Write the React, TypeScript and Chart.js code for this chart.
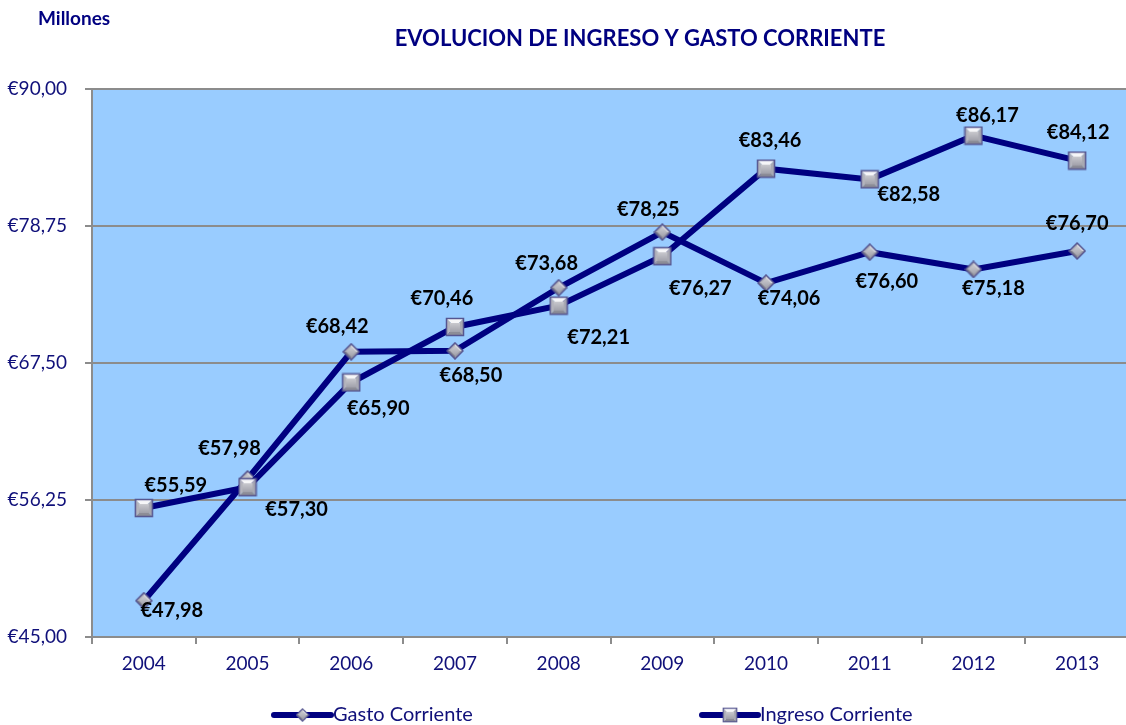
import React, { useEffect, useRef } from "react";
import { Chart, registerables } from "chart.js";

Chart.register(...registerables);

const years = ["2004", "2005", "2006", "2007", "2008", "2009", "2010", "2011", "2012", "2013"];
const gastoCorriente = [47.98, 57.98, 68.42, 68.5, 73.68, 78.25, 74.06, 76.6, 75.18, 76.7];
const ingresoCorriente = [55.59, 57.3, 65.9, 70.46, 72.21, 76.27, 83.46, 82.58, 86.17, 84.12];
const yMin = 45;
const yMax = 90;
const yStep = 11.25;

// label placement offsets (pixels relative to each point)
const gastoLabelOffsets = [[28, 10], [-18, -30], [-14, -25], [16, 25], [-12, -24], [-14, -23], [23, 15], [17, 29], [20, 19], [0, -27]];
const ingresoLabelOffsets = [[32, -22], [49, 22], [27, 26], [-13, -28], [40, 32], [38, 32], [4, -28], [39, 15], [14, -20], [1, -28]];

const NAVY = "#000080";
const TEXT_NAVY = "#10107A";
const FONT = "Lato, 'Open Sans', sans-serif";

const fmt = (v: number) => "€" + v.toFixed(2).replace(".", ",");

function makeMarker(kind: "square" | "diamond"): HTMLCanvasElement {
  const s = kind === "square" ? 20 : 18;
  const c = document.createElement("canvas");
  c.width = s;
  c.height = s;
  const ctx = c.getContext("2d")!;
  const m = s / 2;
  const pts =
    kind === "square"
      ? [[1.5, 1.5], [s - 1.5, 1.5], [s - 1.5, s - 1.5], [1.5, s - 1.5]]
      : [[m, 1], [s - 1, m], [m, s - 1], [1, m]];
  const faces = kind === "square"
    ? ["#F6F6F8", "#A9A9B2", "#8C8C96", "#B4B4BC"]
    : ["#D8D8DE", "#9A9AA6", "#7E7E8C", "#B0B0BA"];
  for (let i = 0; i < 4; i++) {
    const a = pts[i];
    const b = pts[(i + 1) % 4];
    ctx.beginPath();
    ctx.moveTo(m, m);
    ctx.lineTo(a[0], a[1]);
    ctx.lineTo(b[0], b[1]);
    ctx.closePath();
    ctx.fillStyle = faces[i];
    ctx.fill();
  }
  const inset = kind === "square" ? 5 : 4;
  ctx.beginPath();
  if (kind === "square") {
    ctx.rect(inset, inset + 1, s - 2 * inset, s - 2 * inset - 1);
  } else {
    ctx.moveTo(m, inset);
    ctx.lineTo(s - inset, m);
    ctx.lineTo(m, s - inset);
    ctx.lineTo(inset, m);
    ctx.closePath();
  }
  const g = ctx.createLinearGradient(0, inset, 0, s - inset);
  g.addColorStop(0, "#CDCDD2");
  g.addColorStop(1, "#A0A0AA");
  ctx.fillStyle = g;
  ctx.fill();
  ctx.beginPath();
  ctx.moveTo(pts[0][0], pts[0][1]);
  for (let i = 1; i < 4; i++) ctx.lineTo(pts[i][0], pts[i][1]);
  ctx.closePath();
  ctx.strokeStyle = "#555590";
  ctx.lineWidth = 1.5;
  ctx.stroke();
  return c;
}

export default function App() {
  const ref = useRef<HTMLCanvasElement | null>(null);

  useEffect(() => {
    if (!ref.current) return;
    const square = makeMarker("square");
    const diamond = makeMarker("diamond");

    const bgPlugin = {
      id: "plotBg",
      beforeDraw(chart: any) {
        const { ctx, chartArea } = chart;
        ctx.save();
        ctx.fillStyle = "#99CCFF";
        ctx.fillRect(chartArea.left, chartArea.top, chartArea.right - chartArea.left, chartArea.bottom - chartArea.top);
        ctx.restore();
      },
    };

    const labelsPlugin = {
      id: "pointLabels",
      afterDatasetsDraw(chart: any) {
        const { ctx } = chart;
        ctx.save();
        ctx.font = `bold 20px ${FONT}`;
        ctx.fillStyle = "#000000";
        ctx.textAlign = "center";
        ctx.textBaseline = "middle";
        chart.data.datasets.forEach((ds: any, di: number) => {
          const meta = chart.getDatasetMeta(di);
          const offs = ds.labelOffsets as number[][];
          meta.data.forEach((pt: any, i: number) => {
            const o = offs[i];
            ctx.fillText(fmt(ds.data[i]), pt.x + o[0], pt.y + o[1]);
          });
        });
        ctx.restore();
      },
    };

    const decorPlugin = {
      id: "decor",
      afterDraw(chart: any) {
        const { ctx } = chart;
        ctx.save();
        ctx.fillStyle = NAVY;
        ctx.textBaseline = "middle";
        ctx.font = `bold 19px ${FONT}`;
        ctx.textAlign = "left";
        ctx.fillText("Millones", 38, 19);
        ctx.font = `bold 22px ${FONT}`;
        ctx.textAlign = "center";
        ctx.fillText("EVOLUCION DE INGRESO Y GASTO CORRIENTE", 640, 39);

        const items = [
          { x1: 274, x2: 331, text: "Gasto Corriente", img: diamond },
          { x1: 702, x2: 758, text: "Ingreso Corriente", img: square },
        ];
        const ly = 715;
        items.forEach((it) => {
          ctx.strokeStyle = NAVY;
          ctx.lineWidth = 6;
          ctx.lineCap = "round";
          ctx.beginPath();
          ctx.moveTo(it.x1, ly);
          ctx.lineTo(it.x2, ly);
          ctx.stroke();
          const cx = (it.x1 + it.x2) / 2;
          const w = it.img.width - 4;
          ctx.drawImage(it.img, cx - w / 2, ly - w / 2, w, w);
          ctx.fillStyle = TEXT_NAVY;
          ctx.font = `20px ${FONT}`;
          ctx.textAlign = "left";
          ctx.fillText(it.text, it.x2 + 2, ly);
        });
        ctx.restore();
      },
    };

    const chart = new Chart(ref.current, {
      type: "line",
      data: {
        labels: years,
        datasets: [
          {
            label: "Gasto Corriente",
            data: gastoCorriente,
            borderColor: NAVY,
            backgroundColor: NAVY,
            borderWidth: 6,
            tension: 0,
            pointStyle: diamond as any,
            pointRadius: 9,
            pointBorderWidth: 0,
            order: 1,
            labelOffsets: gastoLabelOffsets,
          } as any,
          {
            label: "Ingreso Corriente",
            data: ingresoCorriente,
            borderColor: NAVY,
            backgroundColor: NAVY,
            borderWidth: 6,
            tension: 0,
            pointStyle: square as any,
            pointRadius: 10,
            pointBorderWidth: 0,
            order: 0,
            labelOffsets: ingresoLabelOffsets,
          } as any,
        ],
      },
      options: {
        responsive: false,
        animation: false,
        layout: { autoPadding: false, padding: { top: 89, bottom: 48, left: 0, right: 1 } },
        plugins: {
          legend: { display: false },
          title: { display: false },
          tooltip: { enabled: false },
        },
        scales: {
          x: {
            offset: true,
            grid: {
              offset: true,
              drawOnChartArea: false,
              drawTicks: true,
              tickLength: 7,
              color: "#8C8C8C",
              lineWidth: 2,
            },
            border: { display: true, color: "#8C8C8C", width: 2 },
            ticks: {
              color: TEXT_NAVY,
              font: { family: FONT, size: 19 },
              padding: 8,
              maxRotation: 0,
            },
            afterFit(scale: any) {
              scale.height = 40;
              scale.paddingLeft = 0;
              scale.paddingRight = 0;
            },
          },
          y: {
            min: yMin,
            max: yMax,
            grid: {
              color: "#8C8C8C",
              lineWidth: 2,
              drawTicks: true,
              tickLength: 7,
            },
            border: { display: true, color: "#8C8C8C", width: 2 },
            ticks: {
              stepSize: yStep,
              color: TEXT_NAVY,
              font: { family: FONT, size: 19 },
              padding: 18,
              callback: (v: any) => fmt(Number(v)),
            },
            afterFit(scale: any) {
              scale.width = 92;
              scale.paddingTop = 0;
              scale.paddingBottom = 0;
            },
          },
        },
      },
      plugins: [bgPlugin, labelsPlugin, decorPlugin],
    });
    return () => chart.destroy();
  }, []);

  return (
    <div style={{ position: "fixed", left: 0, top: 0, width: 1126, height: 725, overflow: "hidden", background: "#fff" }}>
      <canvas ref={ref} width={1130} height={725} style={{ display: "block" }} />
    </div>
  );
}
